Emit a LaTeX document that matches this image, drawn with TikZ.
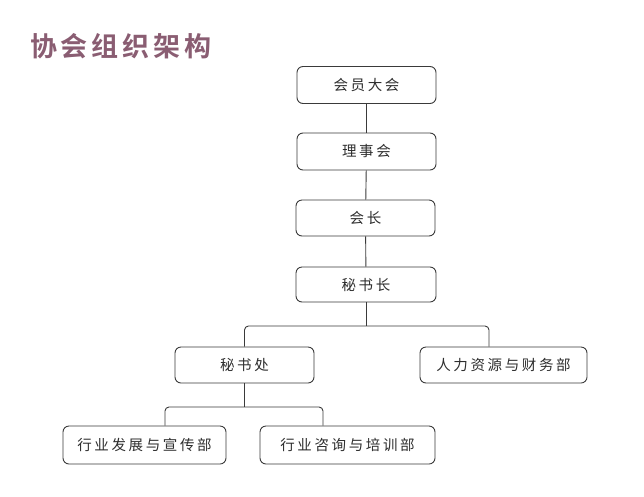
\documentclass[tikz,border=0pt]{standalone}
\usepackage{fontspec}
\newfontfamily\cjk[LetterSpace=18]{Noto Sans CJK SC}
\newfontfamily\cjktitle[LetterSpace=14]{Noto Sans CJK SC Bold}
\definecolor{boxline}{HTML}{3A3A3A}
\definecolor{txt}{HTML}{2E2E2E}
\definecolor{titlec}{HTML}{8A5D72}
\begin{document}
\begin{tikzpicture}[x=1pt,y=-1pt,
  orgbox/.style={draw=boxline,line width=0.9pt,rounded corners=6pt,fill=white,
    minimum height=37pt,inner sep=0pt,font=\cjk\fontsize{14.5}{16}\selectfont,text=txt},
  link/.style={draw=boxline,line width=0.9pt,rounded corners=4pt}]
\useasboundingbox (0,0) rectangle (644,496);
\node[font=\cjktitle\fontsize{27}{30}\selectfont,text=titlec,anchor=west,inner sep=0pt] (title) at (30,46) {协会组织架构};
\node[orgbox,minimum width=139pt] (a) at (366.5,85) {会员大会};
\node[orgbox,minimum width=139pt] (b) at (366.5,151.5) {理事会};
\node[orgbox,minimum width=139pt,minimum height=36pt] (c) at (365.5,218) {会长};
\node[orgbox,minimum width=140pt,minimum height=35pt] (d) at (366,284.5) {秘书长};
\node[orgbox,minimum width=139pt,minimum height=36pt] (e) at (244.5,365) {秘书处};
\node[orgbox,minimum width=167pt,minimum height=36pt] (f) at (503.5,365) {人力资源与财务部};
\node[orgbox,minimum width=163pt,minimum height=38pt] (g) at (144.5,445) {行业发展与宣传部};
\node[orgbox,minimum width=175pt,minimum height=38pt] (h) at (347.5,445) {行业咨询与培训部};
\coordinate (j1) at (366,326);
\coordinate (j2) at (244.5,407);
\draw[link] (a) -- (b);
\draw[link] (b) -- (c);
\draw[link] (c) -- (d);
\draw[link] (d) -- (j1);
\draw[link] (e.north) |- (j1) -| (f.north -| 489,0);
\draw[link] (e) -- (j2);
\draw[link] (g.north -| 165,0) |- (j2) -| (h.north -| 323,0);
\end{tikzpicture}
\end{document}
